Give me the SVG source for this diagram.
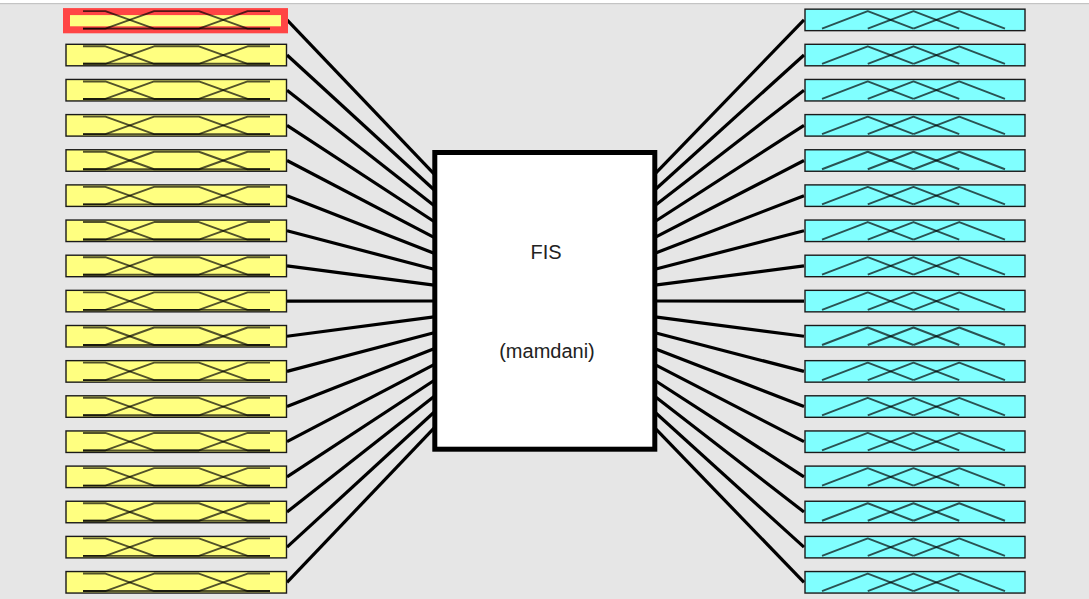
<svg xmlns="http://www.w3.org/2000/svg" xmlns:xlink="http://www.w3.org/1999/xlink" width="1089" height="599" viewBox="0 0 1089 599">
<style>
.bg{fill:#e6e6e6}
.inbox{fill:#ffff80;stroke:#1a1a1a;stroke-width:1.4}
.outbox{fill:#80ffff;stroke:#1a1a1a;stroke-width:1.4}
.mf{fill:none;stroke:#000;stroke-opacity:0.68;stroke-width:1.9;stroke-linejoin:round}
.conn line{stroke:#000;stroke-width:3.2;stroke-linecap:butt}
.lbl{font-family:"Liberation Sans",Arial,sans-serif;font-size:20px;fill:#222;text-anchor:middle}
</style>
<defs>
<g id="inLines">
<polyline class="mf" points="17.5,2.5 39.9,2.5 88.6,20 204.5,20"/>
<polyline class="mf" points="17.5,20 39.9,20 88.6,2.5 133.4,2.5 182.1,20 204.5,20"/>
<polyline class="mf" points="17.5,20 133.4,20 182.1,2.5 204.5,2.5"/>
</g>
<g id="inMF">
<rect class="inbox" x="0.5" y="0.5" width="220.5" height="21.5"/>
<use xlink:href="#inLines"/>
</g>
<g id="outMF">
<rect class="outbox" x="0.5" y="0.5" width="220" height="21.5"/>
<polyline class="mf" points="17.5,20 63.25,2.5 109,20"/>
<polyline class="mf" points="63.25,20 109,2.5 154.75,20"/>
<polyline class="mf" points="109,20 154.75,2.5 200.5,20"/>
</g>
</defs>
<rect class="bg" x="0" y="0" width="1089" height="599"/>
<rect x="0" y="0" width="1089" height="3" fill="#ffffff"/>
<rect x="0" y="3" width="1089" height="1.2" fill="#c4c4c4"/>

<g id="connectors" class="conn">
<line x1="287" y1="19.9" x2="434" y2="173.8"/>
<line x1="287" y1="55.05" x2="434" y2="189.7"/>
<line x1="287" y1="90.2" x2="434" y2="205.6"/>
<line x1="287" y1="125.35" x2="434" y2="221.5"/>
<line x1="287" y1="160.5" x2="434" y2="237.4"/>
<line x1="287" y1="195.65" x2="434" y2="253.3"/>
<line x1="287" y1="230.8" x2="434" y2="269.2"/>
<line x1="287" y1="265.95" x2="434" y2="285.1"/>
<line x1="287" y1="301.1" x2="434" y2="301"/>
<line x1="287" y1="336.25" x2="434" y2="316.9"/>
<line x1="287" y1="371.4" x2="434" y2="332.8"/>
<line x1="287" y1="406.55" x2="434" y2="348.7"/>
<line x1="287" y1="441.7" x2="434" y2="364.6"/>
<line x1="287" y1="476.85" x2="434" y2="380.5"/>
<line x1="287" y1="512" x2="434" y2="396.4"/>
<line x1="287" y1="547.15" x2="434" y2="412.3"/>
<line x1="287" y1="582.3" x2="434" y2="428.2"/>
<line x1="655" y1="173.8" x2="804" y2="19.9"/>
<line x1="655" y1="189.7" x2="804" y2="55.05"/>
<line x1="655" y1="205.6" x2="804" y2="90.2"/>
<line x1="655" y1="221.5" x2="804" y2="125.35"/>
<line x1="655" y1="237.4" x2="804" y2="160.5"/>
<line x1="655" y1="253.3" x2="804" y2="195.65"/>
<line x1="655" y1="269.2" x2="804" y2="230.8"/>
<line x1="655" y1="285.1" x2="804" y2="265.95"/>
<line x1="655" y1="301" x2="804" y2="301.1"/>
<line x1="655" y1="316.9" x2="804" y2="336.25"/>
<line x1="655" y1="332.8" x2="804" y2="371.4"/>
<line x1="655" y1="348.7" x2="804" y2="406.55"/>
<line x1="655" y1="364.6" x2="804" y2="441.7"/>
<line x1="655" y1="380.5" x2="804" y2="476.85"/>
<line x1="655" y1="396.4" x2="804" y2="512"/>
<line x1="655" y1="412.3" x2="804" y2="547.15"/>
<line x1="655" y1="428.2" x2="804" y2="582.3"/>
</g>

<g id="input1">
<rect x="66.5" y="11.6" width="218" height="18.2" fill="#ffff80" stroke="#ff4545" stroke-width="7"/>
<use xlink:href="#inLines" x="65.5" y="8.65"/>
</g>
<g id="input2"><use xlink:href="#inMF" x="65.5" y="43.8"/></g>
<g id="input3"><use xlink:href="#inMF" x="65.5" y="78.95"/></g>
<g id="input4"><use xlink:href="#inMF" x="65.5" y="114.1"/></g>
<g id="input5"><use xlink:href="#inMF" x="65.5" y="149.25"/></g>
<g id="input6"><use xlink:href="#inMF" x="65.5" y="184.4"/></g>
<g id="input7"><use xlink:href="#inMF" x="65.5" y="219.55"/></g>
<g id="input8"><use xlink:href="#inMF" x="65.5" y="254.7"/></g>
<g id="input9"><use xlink:href="#inMF" x="65.5" y="289.85"/></g>
<g id="input10"><use xlink:href="#inMF" x="65.5" y="325"/></g>
<g id="input11"><use xlink:href="#inMF" x="65.5" y="360.15"/></g>
<g id="input12"><use xlink:href="#inMF" x="65.5" y="395.3"/></g>
<g id="input13"><use xlink:href="#inMF" x="65.5" y="430.45"/></g>
<g id="input14"><use xlink:href="#inMF" x="65.5" y="465.6"/></g>
<g id="input15"><use xlink:href="#inMF" x="65.5" y="500.75"/></g>
<g id="input16"><use xlink:href="#inMF" x="65.5" y="535.9"/></g>
<g id="input17"><use xlink:href="#inMF" x="65.5" y="571.05"/></g>

<g id="output1"><use xlink:href="#outMF" x="804.5" y="8.65"/></g>
<g id="output2"><use xlink:href="#outMF" x="804.5" y="43.8"/></g>
<g id="output3"><use xlink:href="#outMF" x="804.5" y="78.95"/></g>
<g id="output4"><use xlink:href="#outMF" x="804.5" y="114.1"/></g>
<g id="output5"><use xlink:href="#outMF" x="804.5" y="149.25"/></g>
<g id="output6"><use xlink:href="#outMF" x="804.5" y="184.4"/></g>
<g id="output7"><use xlink:href="#outMF" x="804.5" y="219.55"/></g>
<g id="output8"><use xlink:href="#outMF" x="804.5" y="254.7"/></g>
<g id="output9"><use xlink:href="#outMF" x="804.5" y="289.85"/></g>
<g id="output10"><use xlink:href="#outMF" x="804.5" y="325"/></g>
<g id="output11"><use xlink:href="#outMF" x="804.5" y="360.15"/></g>
<g id="output12"><use xlink:href="#outMF" x="804.5" y="395.3"/></g>
<g id="output13"><use xlink:href="#outMF" x="804.5" y="430.45"/></g>
<g id="output14"><use xlink:href="#outMF" x="804.5" y="465.6"/></g>
<g id="output15"><use xlink:href="#outMF" x="804.5" y="500.75"/></g>
<g id="output16"><use xlink:href="#outMF" x="804.5" y="535.9"/></g>
<g id="output17"><use xlink:href="#outMF" x="804.5" y="571.05"/></g>

<g id="fis">
<rect x="434.8" y="152.5" width="220" height="296.7" fill="#ffffff" stroke="#000" stroke-width="5"/>
<text class="lbl" x="546" y="259">FIS</text>
<text class="lbl" x="547" y="358">(mamdani)</text>
</g>
</svg>
